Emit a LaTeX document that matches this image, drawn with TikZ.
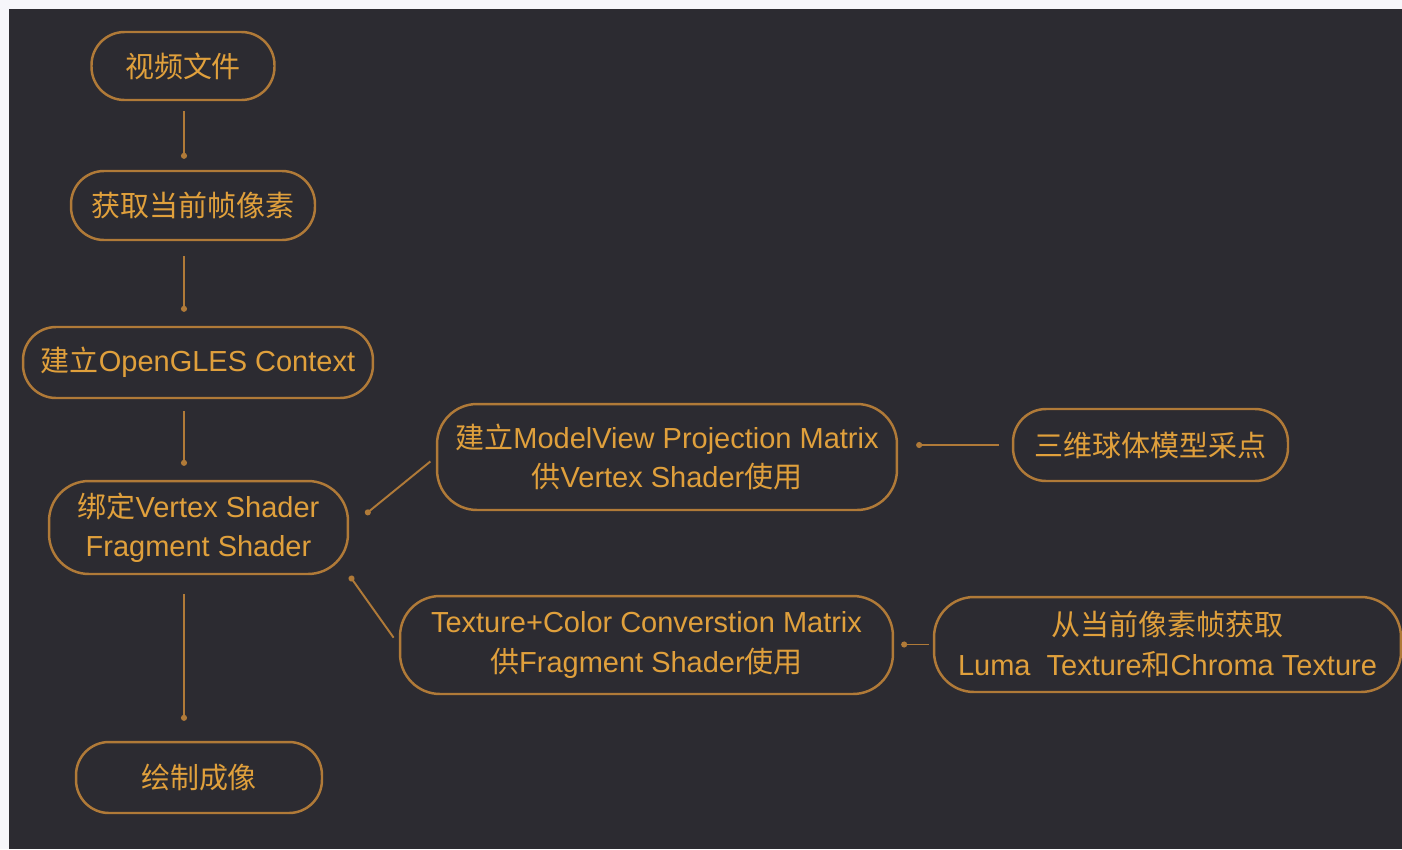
\documentclass[tikz,border=0pt]{standalone}
\usepackage{fontspec}
\setmainfont{Liberation Sans}
\newfontfamily\cjk{Noto Sans CJK SC}
\newcommand{\zh}[1]{{\cjk #1}}
\usetikzlibrary{arrows.meta, positioning}
\definecolor{pagewhite}{HTML}{F6F6FA}
\definecolor{bgdark}{HTML}{2C2B31}
\definecolor{amber}{HTML}{E0A03C}
\definecolor{amberline}{HTML}{B07A38}

\begin{document}
\begin{tikzpicture}[x=0.02cm,y=-0.02cm,>={Circle[length=3.4pt]},
  pill/.style={draw=amberline,line width=1.4pt,rectangle,rounded corners=0.66cm,text=amber,font=\fontsize{16.5}{22.5}\selectfont,align=center,inner sep=0pt},
  tall/.style={rounded corners=0.8cm},
  link/.style={->,draw=amberline,line width=1.1pt}]
  \useasboundingbox (0,0) rectangle (1402,849);
  \fill[pagewhite] (0,0) rectangle (1402,849);
  \fill[bgdark] (9,9) rectangle (1402,849);

  % main column
  \node[pill,minimum width=3.66cm,minimum height=1.36cm] (video) at (183,66) {\zh{视频文件}};
  \node[pill,minimum width=4.88cm,minimum height=1.38cm] (frame) at (193,205.5) {\zh{获取当前帧像素}};
  \node[pill,minimum width=7.0cm,minimum height=1.42cm] (context) at (198,362.5) {\zh{建立}OpenGLES Context};
  \node[pill,tall,minimum width=5.98cm,minimum height=1.86cm] (shader) at (198.5,527.5) {\zh{绑定}Vertex Shader\\Fragment Shader};
  \node[pill,minimum width=4.92cm,minimum height=1.42cm] (draw) at (199,777.5) {\zh{绘制成像}};

  % inputs of the shaders
  \node[pill,tall,minimum width=9.2cm,minimum height=2.12cm] (mvp) at (667,457) {\zh{建立}ModelView Projection Matrix\\\zh{供}Vertex Shader\zh{使用}};
  \node[pill,minimum width=5.5cm,minimum height=1.44cm] (sphere) at (1150.5,445) {\zh{三维球体模型采点}};
  \node[pill,tall,minimum width=9.86cm,minimum height=1.96cm] (texmat) at (646.5,645) {Texture+Color Converstion Matrix\\\zh{供}Fragment Shader\zh{使用}};
  \node[pill,tall,minimum width=9.34cm,minimum height=1.9cm] (luma) at (1167.5,644.5) {\zh{从当前像素帧获取}\\Luma\ \ Texture\zh{和}Chroma Texture};

  \coordinate (col) at (184,0);
  \draw[link,shorten <=0.2cm,shorten >=0.22cm] (video.south -| col) -- (frame.north -| col);
  \draw[link,shorten <=0.3cm,shorten >=0.28cm] (frame.south -| col) -- (context.north -| col);
  \draw[link,shorten <=0.24cm,shorten >=0.28cm] (context.south -| col) -- (shader.north -| col);
  \draw[link,shorten <=0.38cm,shorten >=0.4cm] (shader.south -| col) -- (draw.north -| col);

  \draw[link,shorten <=0.14cm,shorten >=0.42cm] (mvp.west) -- (shader.east);
  \draw[link,shorten <=0.18cm,shorten >=0.02cm] (texmat.west) -- (shader.south east);
  \draw[link,shorten <=0.26cm,shorten >=0.36cm] (sphere.west) -- (sphere.west -| mvp.east);
  \draw[link,shorten <=0.08cm,shorten >=0.14cm] (luma.west) -- (luma.west -| texmat.east);
\end{tikzpicture}
\end{document}
